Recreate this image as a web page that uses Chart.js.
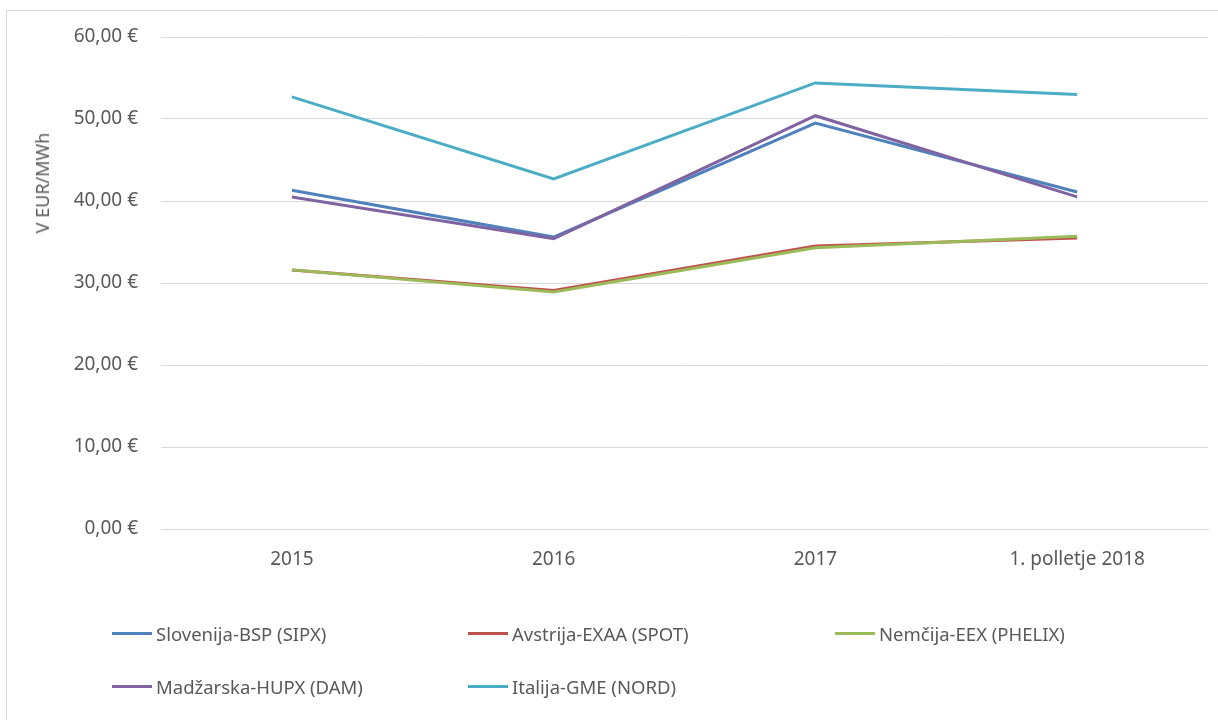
<!DOCTYPE html>
<html>
<head>
<meta charset="utf-8">
<script src="https://cdn.jsdelivr.net/npm/chart.js@4"></script>
<style>
  html, body { margin: 0; padding: 0; background: #fff; }
  #wrap { position: relative; width: 1218px; height: 720px; overflow: hidden; font-family: "Noto Sans", sans-serif; color: #595959; }
  #frame { position: absolute; left: 6px; top: 10px; width: 1230px; height: 730px; border: 1px solid #d9d9d9; }
  #chart { position: absolute; left: 0; top: 0; }
  #ytitle { position: absolute; left: 42px; top: 183px; transform: translate(-50%, -50%) rotate(-90deg); font-size: 18px; white-space: nowrap; }
  #legend { position: absolute; left: 112px; top: 621px; width: 1100px; }
  .item { position: absolute; display: flex; align-items: center; font-size: 18.5px; white-space: nowrap; }
  .item span.sw { display: inline-block; width: 40px; height: 3px; margin-right: 4px; }
</style>
</head>
<body>
<div id="wrap">
  <div id="frame"></div>
  <canvas id="chart" width="1218" height="720"></canvas>
  <div id="ytitle">V EUR/MWh</div>
  <div id="legend"></div>
</div>
<script>
// DATA
const categories = ['2015', '2016', '2017', '1. polletje 2018'];
const seriesNames = ['Slovenija-BSP (SIPX)', 'Avstrija-EXAA (SPOT)', 'Nemčija-EEX (PHELIX)', 'Madžarska-HUPX (DAM)', 'Italija-GME (NORD)'];
const slovenija = [41.3, 35.6, 49.5, 41.1];
const avstrija = [31.6, 29.1, 34.5, 35.5];
const nemcija = [31.6, 28.9, 34.3, 35.7];
const madzarska = [40.5, 35.4, 50.4, 40.5];
const italija = [52.7, 42.7, 54.4, 53.0];
const colors = ['#4F81BD', '#C0504D', '#9BBB59', '#8064A2', '#4BACC6'];
const yTicks = [0, 10, 20, 30, 40, 50, 60];

const values = [slovenija, avstrija, nemcija, madzarska, italija];
// later series drawn on top, as in the original
const datasets = values.map((v, i) => ({
  label: seriesNames[i],
  data: v,
  borderColor: colors[i],
  backgroundColor: colors[i],
  borderWidth: 3,
  pointRadius: 0,
  tension: 0,
  order: values.length - i
}));

const fmt = v => v.toFixed(2).replace('.', ',') + ' €';
const font = { family: '"Noto Sans", sans-serif', size: 19 };

const chart = new Chart(document.getElementById('chart'), {
  type: 'line',
  data: { labels: categories, datasets },
  options: {
    responsive: false,
    animation: false,
    layout: { padding: { left: 0, top: 37, right: 10, bottom: 131 } },
    plugins: { legend: { display: false }, tooltip: { enabled: false } },
    scales: {
      x: {
        offset: true,
        grid: { display: false, drawTicks: false },
        border: { color: '#d9d9d9', width: 1 },
        ticks: { color: '#595959', font, padding: 19, maxRotation: 0 },
        afterFit: s => { s.height = 60; s.paddingLeft = 0; s.paddingRight = 0; }
      },
      y: {
        min: 0,
        max: 60,
        afterBuildTicks: s => { s.ticks = yTicks.map(v => ({ value: v })); },
        grid: { color: '#d9d9d9', drawTicks: false },
        border: { display: false },
        ticks: { color: '#595959', font, padding: 23, callback: v => fmt(v) },
        afterFit: s => { s.width = 161; }
      }
    }
  }
});

// LEGEND (3 columns, like the original)
const legend = document.getElementById('legend');
const colX = [0, 356, 723];
const rowY = [0, 53];
chart.data.datasets.forEach((d, i) => {
  const el = document.createElement('div');
  el.className = 'item';
  el.style.left = colX[i % 3] + 'px';
  el.style.top = rowY[Math.floor(i / 3)] + 'px';
  el.innerHTML = '<span class="sw" style="background:' + d.borderColor + '"></span>' + d.label;
  legend.appendChild(el);
});
</script>
</body>
</html>
